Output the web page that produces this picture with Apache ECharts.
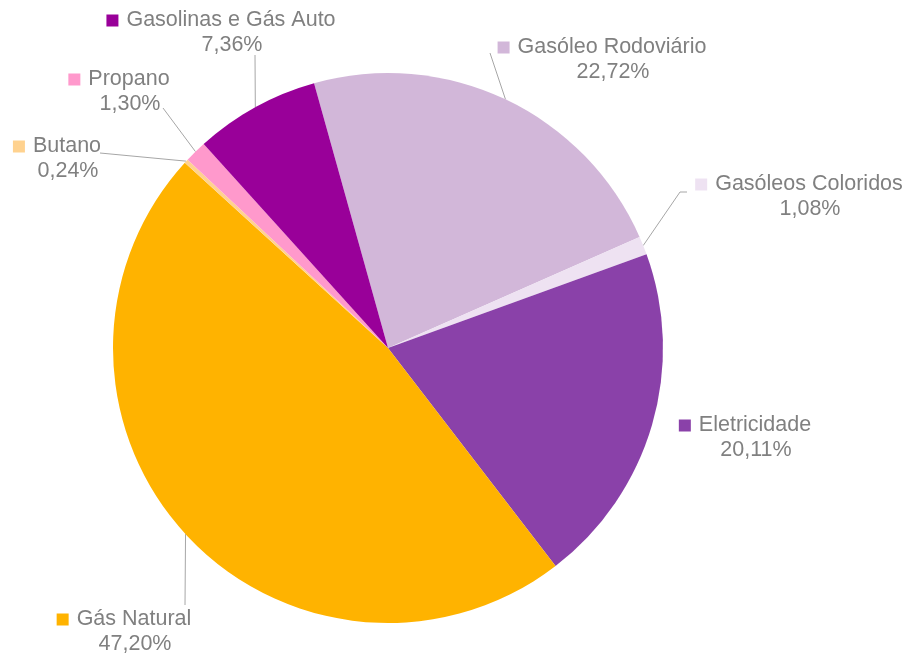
<!DOCTYPE html>
<html>
<head>
<meta charset="utf-8">
<script src="https://cdn.jsdelivr.net/npm/echarts@6/dist/echarts.min.js"></script>
<style>
  html, body { margin: 0; padding: 0; background: #ffffff; }
  #chart { width: 909px; height: 657px; }
</style>
</head>
<body>
<div id="chart"></div>
<script>
// Energy consumption shares (%), clockwise from the top
const categories = ['Gasóleo Rodoviário', 'Gasóleos Coloridos', 'Eletricidade', 'Gás Natural', 'Butano', 'Propano', 'Gasolinas e Gás Auto'];
const shares = [22.72, 1.08, 20.11, 47.20, 0.24, 1.30, 7.36];
const colors = ['#D2B7D9', '#EEE2F2', '#8A41A9', '#FFB300', '#FFD28F', '#FF99CC', '#990099'];

// Where each label block sits (centre of the two text lines)
const labelSpots = [
  [602, 60], [799, 197], [745, 438], [124, 632], [57, 159], [119, 92], [221, 33]
];
// Label-side end of each leader line (null = no leader); an optional elbow follows
const leaderEnds = [
  [[490, 53]],
  [[687, 192], [680, 192]],
  null,
  [[185, 605]],
  [[100, 153]],
  [[163, 108]],
  [[255, 55]]
];

const fmt = v => v.toFixed(2).replace('.', ',') + '%';

const chart = echarts.init(document.getElementById('chart'), null, { renderer: 'canvas' });

const data = categories.map((name, i) => ({
  name,
  value: shares[i],
  itemStyle: { color: colors[i] },
  labelLine: { show: leaderEnds[i] !== null },
  label: { rich: { m: { width: 12, height: 12, backgroundColor: colors[i] } } }
}));

chart.setOption({
  animation: false,
  series: [{
    type: 'pie',
    center: [388, 348],
    radius: 275,
    startAngle: 105.6,
    clockwise: true,
    data,
    itemStyle: { borderWidth: 0 },
    emphasis: { disabled: true },
    label: {
      show: true,
      position: 'outside',
      overflow: 'none',
      fontFamily: 'Liberation Sans, Arial, sans-serif',
      fontSize: 21.5,
      color: '#808080',
      lineHeight: 25,
      align: 'center',
      formatter: p => '{m|}{g|}' + p.name + '\n{v|' + fmt(p.value) + '}',
      rich: {
        g: { width: 8 },
        v: { fontSize: 21.5, color: '#808080', lineHeight: 25, padding: [0, 0, 0, 22] }
      }
    },
    labelLine: {
      show: true,
      lineStyle: { color: '#A6A6A6', width: 1 }
    },
    labelLayout: p => {
      const i = p.dataIndex;
      const s = labelSpots[i];
      const out = { x: s[0], y: s[1], align: 'center', verticalAlign: 'middle' };
      const ends = leaderEnds[i];
      if (ends && p.labelLinePoints && p.labelLinePoints.length) {
        // start on the slice edge (mid-angle), end at the label
        const onSlice = p.labelLinePoints[0];
        out.labelLinePoints = [onSlice.slice()].concat(ends.slice().reverse().map(q => q.slice()));
      }
      return out;
    }
  }]
});
</script>
</body>
</html>
